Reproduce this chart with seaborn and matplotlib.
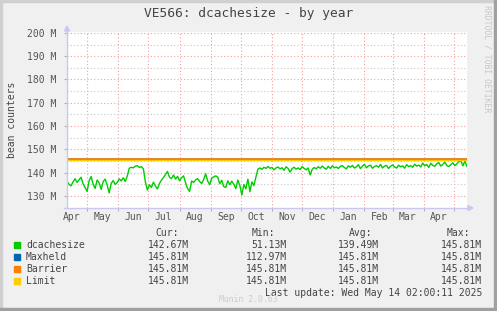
import numpy as np
import pandas as pd
import matplotlib
matplotlib.use("Agg")
import matplotlib.pyplot as plt
import matplotlib.dates as mdates
import seaborn as sns
from matplotlib.patches import Rectangle, Polygon
from matplotlib.lines import Line2D
from matplotlib import transforms

# ---------------- data ----------------
start_date = "2024-04-11"
dcachesize = [
    136.2, 135.0, 134.3, 136.0, 137.4, 135.8, 136.9, 138.0, 135.2, 133.5,
    131.9, 136.5, 138.3, 135.0, 133.2, 136.8, 135.6, 132.8, 136.1, 137.2,
    134.6, 131.3, 135.4, 136.6, 134.9, 135.8, 137.3, 136.4,
    137.8, 136.2, 138.6,
    141.9, 142.3, 142.0, 142.8, 143.0, 142.2, 142.6, 141.6,
    136.0, 132.5,
    134.8, 133.6, 135.9, 134.2, 133.0, 135.3,
    136.8, 137.9, 139.2, 140.5,
    138.0, 137.4, 139.0, 137.2, 138.4, 136.5, 137.8, 138.6, 135.6, 133.2, 131.9, 136.4,
    135.8, 136.9, 137.4, 136.2, 135.3, 137.0, 139.5, 136.4, 134.8, 137.6, 138.2, 138.6, 138.1,
    135.2, 136.7, 134.0, 133.6, 136.5, 134.8, 136.3, 135.0, 133.1, 136.8,
    134.5, 130.4, 134.9, 133.0, 137.2, 131.8, 136.0, 134.4, 138.1,
    141.5, 142.0, 141.4, 142.3, 141.8, 142.6, 141.9, 142.2, 141.2, 142.0,
    142.4, 141.6, 142.1, 141.0, 142.5, 141.8, 140.2, 141.7, 142.3, 141.5,
    142.0, 141.3, 142.6, 141.8, 141.2, 142.0, 139.0, 141.4, 142.2, 141.6,
    142.5, 141.9, 142.8, 142.0, 141.5, 142.7, 141.8, 142.9, 142.1, 142.4,
    141.8, 142.6, 143.0, 142.2, 141.6, 142.9, 142.3, 143.1, 142.0, 142.5,
    143.4, 141.7, 142.8, 143.6, 142.1, 142.9, 143.2, 141.9, 142.6, 143.0,
    142.3, 143.5, 142.0, 142.8, 143.1, 141.8, 142.7, 143.3, 142.4, 142.0,
    143.2, 142.5, 142.9, 141.9, 143.4, 142.6, 143.0, 142.3, 143.6, 142.8,
    143.2, 142.4, 144.1, 142.9, 143.5, 142.2, 144.0, 143.1, 142.7, 143.8,
    144.3, 142.8, 143.5, 144.5, 143.0, 142.6, 143.4, 144.2, 143.0, 143.8,
    144.8, 145.1, 142.9, 145.0, 142.67,
]
maxheld_dates = ["2024-04-11", "2024-10-31", "2024-11-01", "2024-11-03", "2025-05-14"]
maxheld = [145.81, 145.81, 145.3, 145.81, 145.81]
limit_dates = ["2024-04-11", "2025-05-14"]
barrier = [145.81, 145.81]
limit = [145.81, 145.81]

series_names = ["dcachesize", "Maxheld", "Barrier", "Limit"]
series_colors = ["#00CC00", "#0066B3", "#FF8000", "#FFCC00"]
cur_vals = ["142.67M", "145.81M", "145.81M", "145.81M"]
min_vals = ["51.13M", "112.97M", "145.81M", "145.81M"]
avg_vals = ["139.49M", "145.81M", "145.81M", "145.81M"]
max_vals = ["145.81M", "145.81M", "145.81M", "145.81M"]
y_ticks = [130, 140, 150, 160, 170, 180, 190, 200]

# ---------------- figure ----------------
W, H = 497, 311
MONO = "DejaVu Sans Mono"
plt.rcParams["font.family"] = MONO

fig = plt.figure(figsize=(W / 100, H / 100), dpi=100, facecolor="#F0F0F0")

def fx(x):
    return x / W

def fy(y):
    return 1 - y / H

ax = fig.add_axes([fx(67), fy(208), 400 / W, (208 - 31.5) / H])
ax.set_facecolor("white")

df = pd.DataFrame({"date": pd.date_range(start_date, periods=len(dcachesize), freq="2D"),
                   "value": dcachesize})
dmx = pd.DataFrame({"date": pd.to_datetime(maxheld_dates), "value": maxheld})
dbar = pd.DataFrame({"date": pd.to_datetime(limit_dates), "value": barrier})
dlim = pd.DataFrame({"date": pd.to_datetime(limit_dates), "value": limit})

sns.lineplot(data=df, x="date", y="value", ax=ax, color=series_colors[0], lw=1.0, legend=False, zorder=5)
sns.lineplot(data=dmx, x="date", y="value", ax=ax, color=series_colors[1], lw=1.0, legend=False, zorder=6)
off_up = transforms.offset_copy(ax.transData, fig=fig, y=0.5, units="dots")
off_dn = transforms.offset_copy(ax.transData, fig=fig, y=-0.6, units="dots")
sns.lineplot(data=dbar, x="date", y="value", ax=ax, color=series_colors[2], lw=1.1, legend=False,
             zorder=7, transform=off_up)
sns.lineplot(data=dlim, x="date", y="value", ax=ax, color=series_colors[3], lw=1.0, legend=False,
             zorder=8, transform=off_dn)

ax.set_xlim(pd.Timestamp("2024-04-11"), pd.Timestamp("2025-05-14 02:00"))
ax.set_ylim(124.8, 200.6)

ax.set_yticks(y_ticks)
ax.set_yticklabels([f"{v} M" for v in y_ticks])
ax.set_yticks([v + 5 for v in y_ticks[:-1]], minor=True)

ax.xaxis.set_major_locator(mdates.MonthLocator(bymonthday=1))
ax.xaxis.set_major_formatter(plt.NullFormatter())
ax.xaxis.set_minor_locator(mdates.MonthLocator(bymonthday=16))
ax.xaxis.set_minor_formatter(mdates.DateFormatter("%b"))

ax.grid(which="major", axis="both", color="#F4A0A0", ls=(0, (1, 2)), lw=0.8, zorder=1)
ax.grid(which="minor", axis="y", color="#C8C8C8", ls=(0, (1, 2)), lw=0.8, zorder=1)
ax.set_axisbelow(True)

ax.tick_params(axis="y", which="major", direction="out", length=2, color="#B0B0B0",
               labelsize=7, labelcolor="#555555", pad=6)
ax.tick_params(axis="y", which="minor", length=0)
ax.tick_params(axis="x", which="major", direction="out", length=2, color="#B0B0B0")
ax.tick_params(axis="x", which="minor", length=0, labelsize=7, labelcolor="#555555", pad=3)
ax.set_xlabel("")
ax.set_ylabel("")
for s in ax.spines.values():
    s.set_visible(False)

# axes lines with arrows
axis_col = "#C8C8F0"
fig.add_artist(Line2D([fx(67), fx(67)], [fy(208), fy(29)], color=axis_col, lw=1.0))
fig.add_artist(Line2D([fx(64), fx(469)], [fy(208), fy(208)], color=axis_col, lw=1.0))
fig.add_artist(Polygon([(fx(64.5), fy(31)), (fx(69.5), fy(31)), (fx(67), fy(26))],
                       closed=True, color=axis_col, transform=fig.transFigure))
fig.add_artist(Polygon([(fx(468), fy(205.5)), (fx(468), fy(210.5)), (fx(473), fy(208))],
                       closed=True, color=axis_col, transform=fig.transFigure))

# texts
tc = "#444444"
fig.text(0.5, fy(13), "VE566: dcachesize - by year", ha="center", va="center",
         fontsize=9.3, color=tc)
fig.text(fx(12), fy(120), "bean counters", rotation=90, ha="center", va="center",
         fontsize=7, color=tc)
fig.text(fx(487), fy(59), "RRDTOOL / TOBI OETIKER", rotation=270, ha="center", va="center",
         fontsize=5.9, color="#C8C8C8")

# legend table
fig.text(fx(155), fy(233), "Cur:", ha="left", va="center", fontsize=7, color=tc)
fig.text(fx(252), fy(233), "Min:", ha="left", va="center", fontsize=7, color=tc)
fig.text(fx(349), fy(233), "Avg:", ha="left", va="center", fontsize=7, color=tc)
fig.text(fx(447), fy(233), "Max:", ha="left", va="center", fontsize=7, color=tc)
row_y = [245, 257, 269, 281]
for i, name in enumerate(series_names):
    y = row_y[i]
    fig.add_artist(Rectangle((fx(14), fy(y + 3)), 6 / W, 6 / H, color=series_colors[i],
                             transform=fig.transFigure))
    fig.text(fx(26), fy(y), name, ha="left", va="center", fontsize=7, color=tc)
    fig.text(fx(189), fy(y), cur_vals[i], ha="right", va="center", fontsize=7, color=tc)
    fig.text(fx(287), fy(y), min_vals[i], ha="right", va="center", fontsize=7, color=tc)
    fig.text(fx(379), fy(y), avg_vals[i], ha="right", va="center", fontsize=7, color=tc)
    fig.text(fx(482), fy(y), max_vals[i], ha="right", va="center", fontsize=7, color=tc)

fig.text(fx(482), fy(293), "Last update: Wed May 14 02:00:11 2025", ha="right", va="center",
         fontsize=7, color=tc)
fig.text(fx(248), fy(300), "Munin 2.0.63", ha="center", va="center", fontsize=5.9,
         color="#CCCCCC")

# frame
fig.add_artist(Rectangle((0, fy(2)), 1, 2 / H, color="#D0D0D0", transform=fig.transFigure))
fig.add_artist(Rectangle((0, 0), 2 / W, 1, color="#D0D0D0", transform=fig.transFigure))
fig.add_artist(Rectangle((0, 0), 1, 3 / H, color="#A0A0A0", transform=fig.transFigure))
fig.add_artist(Rectangle((fx(494), 0), 3 / W, 1, color="#A0A0A0", transform=fig.transFigure))

fig.savefig("out.png", dpi=100, facecolor=fig.get_facecolor())
